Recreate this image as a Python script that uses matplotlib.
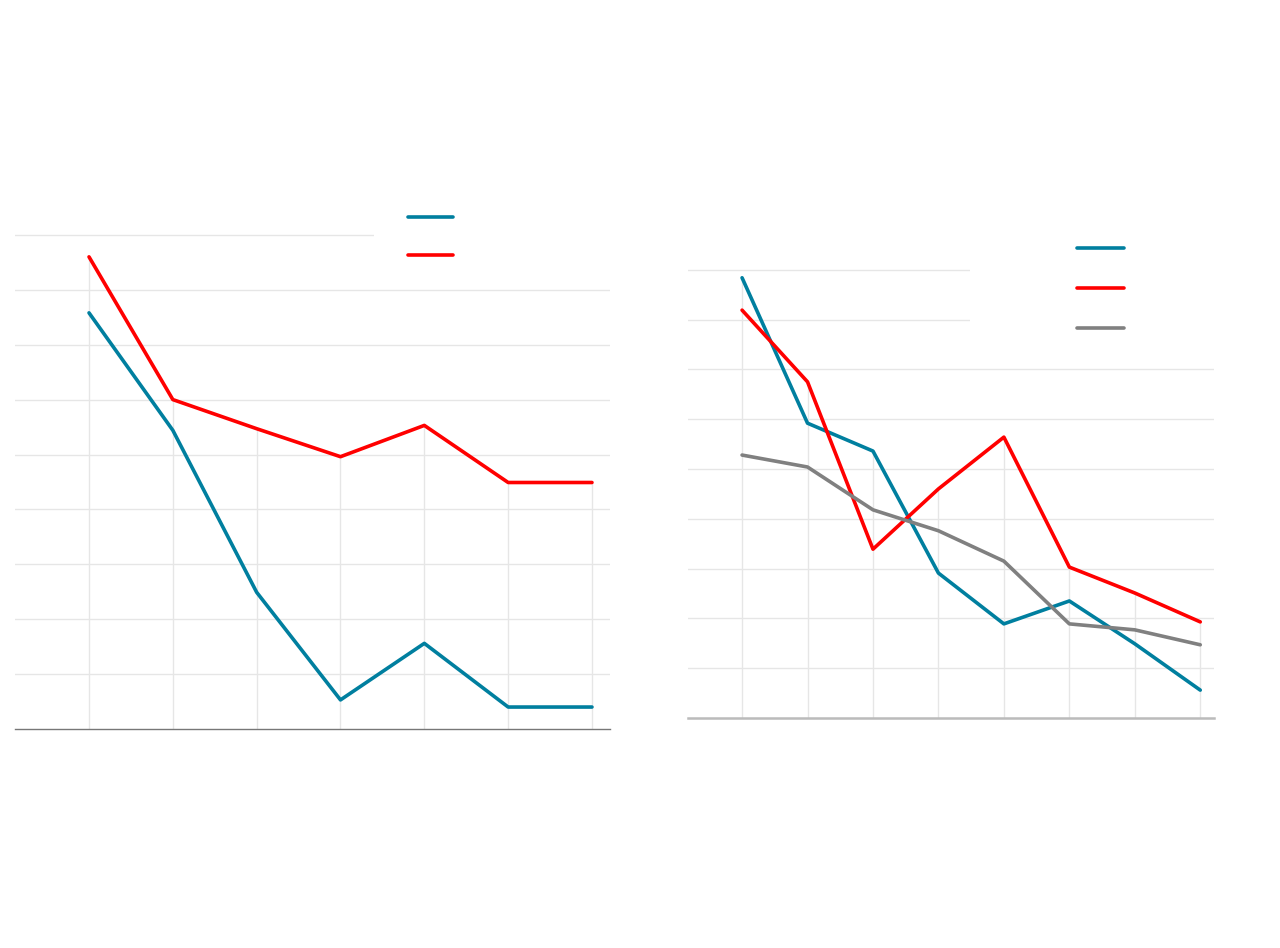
import matplotlib
matplotlib.use("Agg")
import matplotlib.pyplot as plt

# left chart
x_left = [0, 1, 2, 3, 4, 5, 6]
blue_left = [75.8, 54.4, 24.9, 5.3, 15.6, 4.0, 4.0]
red_left = [86.0, 60.0, 54.7, 49.6, 55.3, 44.9, 44.9]

# right chart
x_right = [0, 1, 2, 3, 4, 5, 6, 7]
blue_right = [88.4, 59.2, 53.6, 29.1, 18.9, 23.5, 14.9, 5.6]
red_right = [81.9, 67.5, 33.9, 46.0, 56.4, 30.3, 25.1, 19.3]
gray_right = [52.8, 50.4, 41.8, 37.6, 31.5, 18.9, 17.7, 14.7]

yticks = [10, 20, 30, 40, 50, 60, 70, 80, 90]

BLUE = "#007f9f"
RED = "#ff0000"
GRAY = "#808080"
GRID = "#e6e6e6"

fig = plt.figure(figsize=(12.8, 9.48), dpi=100)

ax1 = fig.add_axes([15 / 1280, (948 - 729) / 948, 595 / 1280, 95 * 5.49 / 948])
ax2 = fig.add_axes([688 / 1280, (948 - 718) / 948, 526 / 1280, 95 * 4.98 / 948])


def style(ax, xs, series, xlim, base_color, base_lw):
    ax.set_xlim(*xlim)
    ax.set_ylim(0, 95)
    ax.set_yticks(yticks)
    ax.set_xticks([])
    ax.tick_params(length=0, labelleft=False, labelbottom=False)
    for s in ax.spines.values():
        s.set_visible(False)
    ax.grid(axis="y", color=GRID, lw=1)
    ax.set_axisbelow(True)
    tops = [max(v) for v in zip(*series)]
    ax.vlines(xs, 0, tops, color=GRID, lw=1, zorder=1)
    ax.axhline(0, color=base_color, lw=base_lw, zorder=2, clip_on=False)


style(ax1, x_left, [blue_left, red_left], (-0.883, 6.215), "#777777", 1.0)
l1, = ax1.plot(x_left, blue_left, color=BLUE, lw=2.6, solid_capstyle="round", zorder=3)
l2, = ax1.plot(x_left, red_left, color=RED, lw=2.6, solid_capstyle="round", zorder=3)
ax1.legend([l1, l2], ["", ""], loc="upper left", mode="expand",
           bbox_to_anchor=(0.603, 0.0, 0.45, 1.004), borderaxespad=0,
           markerfirst=False, handletextpad=2.04, handlelength=3.24,
           labelspacing=1.75, borderpad=0.4, frameon=True,
           facecolor="white", edgecolor="none", framealpha=1, fancybox=False)

style(ax2, x_right, [blue_right, red_right, gray_right], (-0.826, 7.21), "#bbbbbb", 1.8)
m1, = ax2.plot(x_right, blue_right, color=BLUE, lw=2.6, solid_capstyle="round", zorder=3)
m2, = ax2.plot(x_right, red_right, color=RED, lw=2.6, solid_capstyle="round", zorder=3)
m3, = ax2.plot(x_right, gray_right, color=GRAY, lw=2.6, solid_capstyle="round", zorder=3)
ax2.legend([m1, m2, m3], ["", "", ""], loc="upper left", mode="expand",
           bbox_to_anchor=(0.536, 0.0, 0.5, 1.019), borderaxespad=0,
           markerfirst=False, handletextpad=7.3, handlelength=3.4,
           labelspacing=1.9, borderpad=0.4, frameon=True,
           facecolor="white", edgecolor="none", framealpha=1, fancybox=False)

fig.savefig("out.png", dpi=100, facecolor="white")
